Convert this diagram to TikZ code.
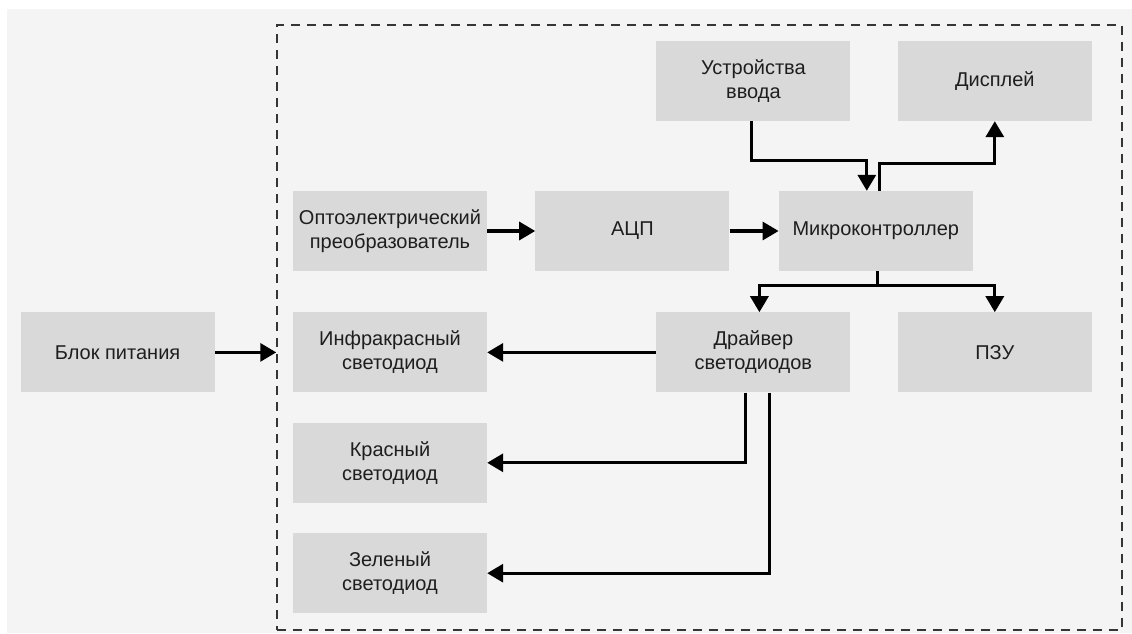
\documentclass[tikz,border=0pt]{standalone}
\usepackage{fontspec}
\setmainfont{Liberation Sans}
\usepackage{xcolor}
\definecolor{PageGray}{RGB}{244,244,244}
\definecolor{BoxGray}{RGB}{217,217,217}
\definecolor{InkGray}{RGB}{30,30,30}
\usetikzlibrary{positioning,arrows.meta}

\begin{document}
\begin{tikzpicture}[x=1pt, y=1pt,
    blk/.style={rectangle, fill=BoxGray, draw=none, minimum width=194pt, minimum height=80pt,
              inner sep=0pt, align=center, text=InkGray, font=\fontsize{20}{24}\selectfont},
    frame/.style={draw=InkGray!90, line width=1.5pt, dash pattern=on 9pt off 7pt},
    a/.style={-{Triangle[length=16pt, width=18pt]}, line width=3.2pt, black}
]
    \useasboundingbox (0,0) rectangle (1132,633);
    \fill[PageGray] (7,0) rectangle (1132,624);
    \node[frame, minimum width=845pt, minimum height=605pt, inner sep=0pt] (box) at (699.5,305.5) {};
    \node[blk] (opto) at (390,402) {Оптоэлектрический\\ преобразователь};
    \node[blk, right=48pt of opto] (adc) {АЦП};
    \node[blk, right=49pt of adc] (mcu) {Микроконтроллер};
    \node[blk, below=41pt of opto] (ir) {Инфракрасный\\ светодиод};
    \node[blk, below=30pt of ir] (red) {Красный\\ светодиод};
    \node[blk, below=30pt of red] (green) {Зеленый\\ светодиод};
    \node[blk, left=78pt of ir] (psu) {Блок питания};
    \node[blk, right=169pt of ir] (drv) {Драйвер\\ светодиодов};
    \node[blk, right=47pt of drv] (rom) {ПЗУ};
    \node[blk, above=191pt of drv] (inp) {Устройства\\ ввода};
    \node[blk, right=47pt of inp] (disp) {Дисплей};
    \draw[a] (psu) -- (psu -| box.west);
    \draw[a] (opto) -- (adc);
    \draw[a] (adc) -- (mcu);
    \draw[a] ([xshift=-2pt]inp.south) -- ++(0,-39) -| ([xshift=-9pt]mcu.north);
    \draw[a] ([xshift=4pt]mcu.north) -- ++(0,27) -| (disp.south);
    \draw[a] ([xshift=2pt]mcu.south) -- ++(0,-14) -| ([xshift=6pt]drv.north);
    \draw[a] ([xshift=2pt]mcu.south) -- ++(0,-14) -| (rom.north);
    \draw[a] (drv) -- (ir);
    \draw[a] ([xshift=-8pt]drv.south) |- (red.east);
    \draw[a] ([xshift=16pt]drv.south) |- (green.east);
\end{tikzpicture}
\end{document}
